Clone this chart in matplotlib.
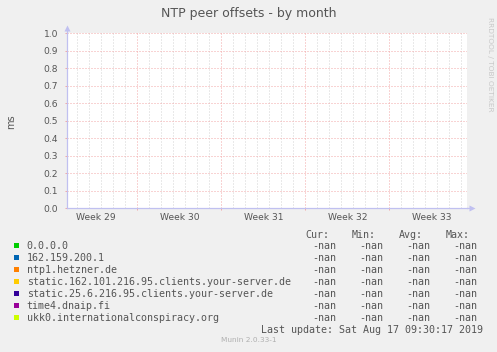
import numpy as np
import matplotlib
matplotlib.use("Agg")
import matplotlib.pyplot as plt
from matplotlib.patches import Rectangle

# Chart data (all peers report -nan for the month)
week_labels = ["Week 29", "Week 30", "Week 31", "Week 32", "Week 33"]
peer_names = ["0.0.0.0", "162.159.200.1", "ntp1.hetzner.de",
              "static.162.101.216.95.clients.your-server.de",
              "static.25.6.216.95.clients.your-server.de",
              "time4.dnaip.fi", "ukk0.internationalconspiracy.org"]
peer_colors = ["#00cc00", "#0066b3", "#ff8000", "#ffcc00",
               "#330099", "#990099", "#ccff00"]
cur_vals = [np.nan] * 7
min_vals = [np.nan] * 7
avg_vals = [np.nan] * 7
max_vals = [np.nan] * 7
yticks = [round(0.1 * i, 1) for i in range(11)]
last_update = "Last update: Sat Aug 17 09:30:17 2019"

W, H = 497, 352
span_days = 400 / 12.0
first_minor = 0.886
first_major = 5.886

def fx(x):
    return x / W

def fy(y):
    return 1 - y / H

bg = "#f0f0f0"
red = "#f2a8a8"
gray = "#d4d4d4"
axcol = "#c0c0f0"
txt = "#555555"

fig = plt.figure(figsize=(W / 100, H / 100), dpi=100, facecolor=bg)
ax = fig.add_axes([fx(66.7), fy(208.3), 400 / W, 175 / H])
ax.set_facecolor("white")

# series (all nan -> nothing drawn)
t = np.array([0, span_days])
for name, col in zip(peer_names, peer_colors):
    ax.plot(t, [np.nan, np.nan], color=col, lw=1)

ax.set_xlim(0, span_days)
ax.set_ylim(0, 1.0)

ax.set_yticks(yticks)
ax.set_yticklabels(["%.1f" % v for v in yticks])
ax.set_xticks(np.arange(first_major, span_days, 7))
ax.set_xticklabels([])
ax.set_xticks(np.arange(first_minor, span_days, 1), minor=True)

ax.tick_params(axis="both", which="major", length=1.6, width=0.72,
               color=red, labelsize=6.6, labelcolor=txt, pad=4.5)
ax.tick_params(axis="x", which="minor", length=0)

ax.grid(which="major", color=red, linestyle=(0, (1, 2)), linewidth=0.72)
ax.grid(which="minor", axis="x", color=gray, linestyle=(0, (1, 2)), linewidth=0.72)
ax.set_axisbelow(True)

for s in ["top", "right"]:
    ax.spines[s].set_visible(False)
for s in ["left", "bottom"]:
    ax.spines[s].set_color(axcol)
    ax.spines[s].set_linewidth(0.9)

# axis arrows
ax.plot([0, 0], [1, 1 + 5 / 175], color=axcol, lw=0.9, clip_on=False,
        transform=ax.transAxes)
ax.plot([0], [1 + 5 / 175], marker="^", ms=4, color=axcol, clip_on=False,
        transform=ax.transAxes, mec="none")
ax.plot([1, 1 + 4 / 400], [0, 0], color=axcol, lw=0.9, clip_on=False,
        transform=ax.transAxes)
ax.plot([1 + 5 / 400], [0], marker=">", ms=4, color=axcol, clip_on=False,
        transform=ax.transAxes, mec="none")

# week labels centred within each week
for i, lab in enumerate(week_labels):
    ax.text(first_major - 3.5 + 7 * i, -0.05, lab, ha="center", va="center",
            fontsize=6.6, color=txt, transform=ax.get_xaxis_transform())

fig.text(fx(248.5), fy(14), "NTP peer offsets - by month", ha="center",
         va="center", fontsize=9, color=txt)
fig.text(fx(11), fy(122), "ms", rotation=90, ha="center", va="center",
         fontsize=7, color=txt)
fig.text(fx(490), fy(17), "RRDTOOL / TOBI OETIKER", rotation=270,
         ha="center", va="top", fontsize=5.3, color="#c8c8c8")

mono = "DejaVu Sans Mono"
lfs = 7.2
ltxt = "#555555"
for hdr, xr in zip(["Cur:", "Min:", "Avg:", "Max:"], [329, 376, 423, 469.5]):
    fig.text(fx(xr), fy(234.7), hdr, ha="right", va="center",
             family=mono, fontsize=lfs, color=ltxt)

def fmt(v):
    return "-nan" if np.isnan(v) else "%.2f" % v

for i, (name, col) in enumerate(zip(peer_names, peer_colors)):
    y = 245.7 + 12 * i
    fig.patches.append(Rectangle((fx(14), fy(y + 2.7)), 5.3 / W, 5.3 / H,
                                 transform=fig.transFigure, facecolor=col,
                                 edgecolor="none"))
    fig.text(fx(26.7), fy(y), name, ha="left", va="center",
             family=mono, fontsize=lfs, color=ltxt)
    for v, xr in zip([cur_vals[i], min_vals[i], avg_vals[i], max_vals[i]],
                     [336.7, 383.3, 430, 477.3]):
        fig.text(fx(xr), fy(y), fmt(v), ha="right", va="center",
                 family=mono, fontsize=lfs, color=ltxt)

fig.text(fx(483.3), fy(329.7), last_update, ha="right", va="center",
         family=mono, fontsize=lfs, color=ltxt)
fig.text(fx(248.5), fy(340.5), "Munin 2.0.33-1", ha="center", va="center",
         fontsize=5.3, color="#b0b0b0")

fig.savefig("out.png", dpi=100, facecolor=bg)
